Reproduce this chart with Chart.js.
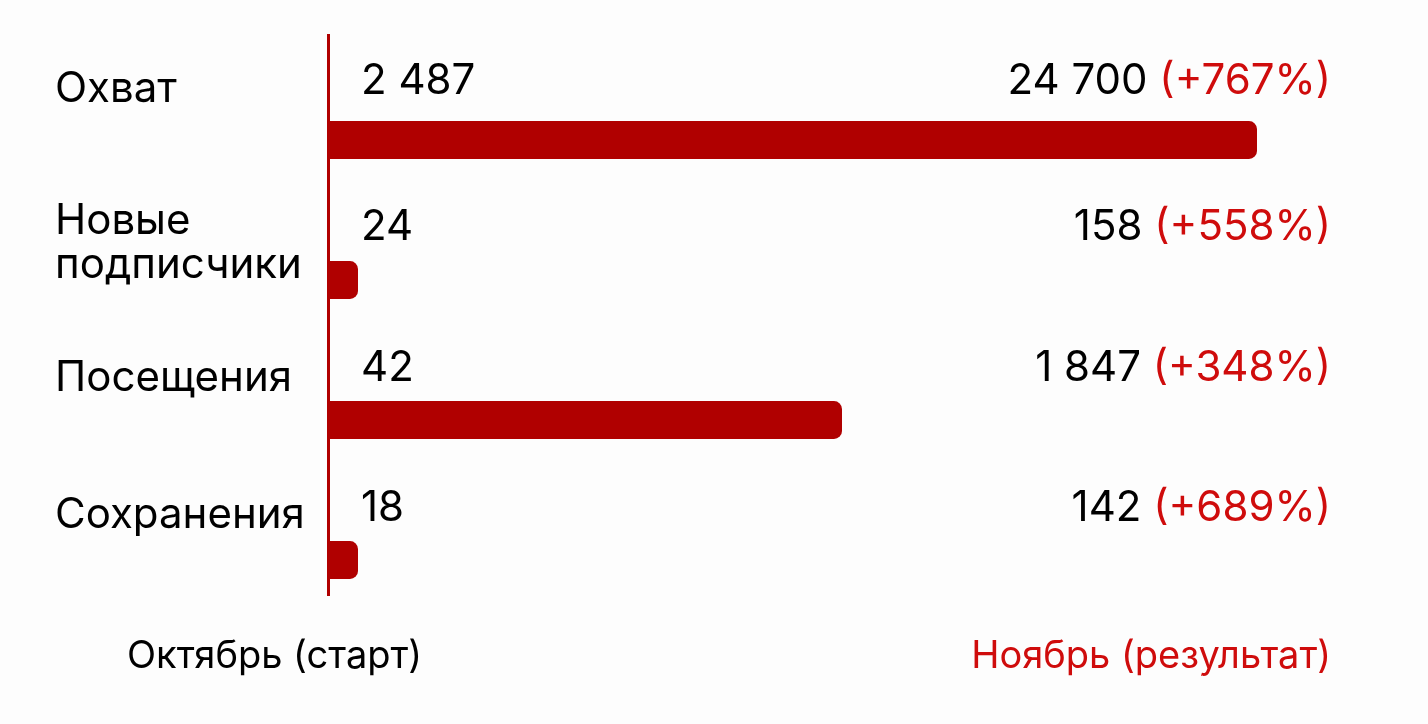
<!DOCTYPE html>
<html>
<head>
<meta charset="utf-8">
<script src="https://cdn.jsdelivr.net/npm/chart.js@4"></script>
<style>
  html, body { margin: 0; padding: 0; background: #fdfdfd; }
  #wrap { width: 1428px; height: 724px; position: relative; }
</style>
</head>
<body>
<div id="wrap"><canvas id="myChart" width="1428" height="724"></canvas></div>
<script>
// categories (line breaks as in the picture)
var categories = [['Охват'], ['Новые', 'подписчики'], ['Посещения'], ['Сохранения']];
var octoberValues = [2487, 24, 42, 18];
var novemberValues = [24700, 158, 1847, 142];
var growthLabels = ['+767%', '+558%', '+348%', '+689%'];
// bar length as drawn in the picture (share of the full width, 0..100)
var barLength = [92.9, 3.0, 51.4, 3.0];
var startLabel = 'Октябрь (старт)';
var resultLabel = 'Ноябрь (результат)';

var darkRed = '#b00000';
var textRed = '#cf0c0c';
var fontName = 'Inter, "Noto Sans", sans-serif';

function fmt(n) {
    return String(n).replace(/\B(?=(\d{3})+(?!\d))/g, ' ');
}

var labelsPlugin = {
    id: 'labelsPlugin',
    afterDraw: function (chart) {
        var ctx = chart.ctx;
        var area = chart.chartArea;
        var yScale = chart.scales.y;
        var nameShift = [-16, 0, -7, -10];
        var valueShift = [-24, -18, -17, -17];
        ctx.save();
        ctx.textBaseline = 'middle';
        categories.forEach(function (cat, i) {
            var cy = yScale.getPixelForValue(i);
            // category name on the left
            ctx.fillStyle = '#000';
            ctx.font = '400 42px ' + fontName;
            ctx.textAlign = 'left';
            if (cat.length == 1) {
                ctx.fillText(cat[0], 55, cy + nameShift[i]);
            } else {
                ctx.fillText(cat[0], 55, cy - 24);
                ctx.fillText(cat[1], 55, cy + 20);
            }
            // start value
            var ty = cy + valueShift[i];
            ctx.font = '400 42px ' + fontName;
            ctx.fillStyle = '#000';
            ctx.fillText(fmt(octoberValues[i]), area.left + 33, ty);
            // result value + growth
            ctx.textAlign = 'right';
            var pct = '(' + growthLabels[i] + ')';
            ctx.fillStyle = textRed;
            ctx.fillText(pct, area.right + 3, ty);
            var w = ctx.measureText(pct).width;
            ctx.fillStyle = '#000';
            ctx.fillText(fmt(novemberValues[i]) + ' ', area.right + 3 - w, ty);
        });
        // bottom captions
        ctx.font = '400 38px ' + fontName;
        ctx.textAlign = 'left';
        ctx.fillStyle = '#000';
        ctx.fillText(startLabel, 127, area.bottom + 62);
        ctx.textAlign = 'right';
        ctx.fillStyle = textRed;
        ctx.fillText(resultLabel, area.right + 3, area.bottom + 62);
        ctx.restore();
    }
};

var ctx = document.getElementById('myChart').getContext('2d');
var chart1 = new Chart(ctx, {
    type: 'bar',
    data: {
        labels: categories.map(function (c) { return c.join(' '); }),
        datasets: [{
            // empty slot on top of each row, for the numbers
            label: 'spacer',
            data: categories.map(function () { return null; }),
            backgroundColor: 'transparent'
        }, {
            label: 'Ноябрь',
            data: barLength,
            backgroundColor: darkRed,
            borderRadius: { topRight: 8, bottomRight: 8, topLeft: 0, bottomLeft: 0 },
            borderSkipped: 'left'
        }]
    },
    options: {
        indexAxis: 'y',
        responsive: false,
        animation: false,
        layout: { padding: { left: 328, right: 100, top: 35, bottom: 129 } },
        datasets: { bar: { categoryPercentage: 1, barPercentage: 0.54 } },
        plugins: { legend: { display: false }, tooltip: { enabled: false } },
        scales: {
            x: { display: false, min: 0, max: 100 },
            y: {
                ticks: { display: false },
                grid: { display: false, drawTicks: false },
                border: { display: true, color: darkRed, width: 3 }
            }
        }
    },
    plugins: [labelsPlugin]
});
</script>
</body>
</html>
